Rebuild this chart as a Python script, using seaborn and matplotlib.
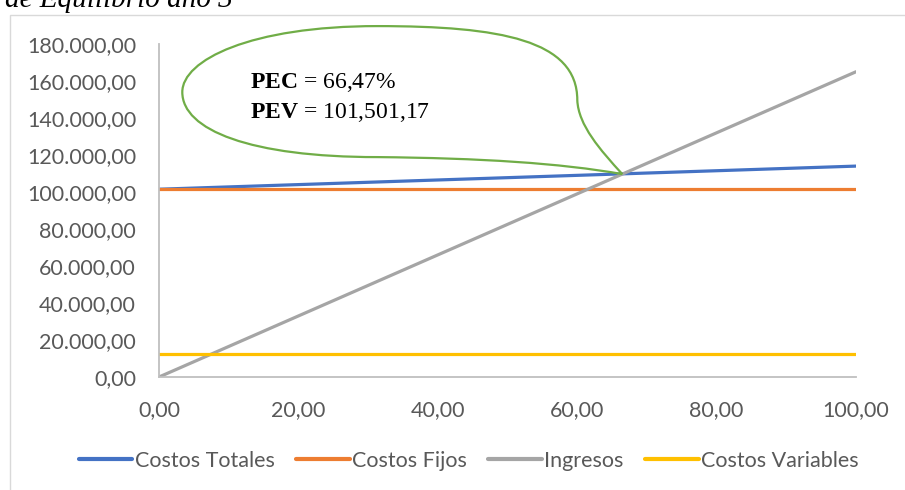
import numpy as np
import pandas as pd
import matplotlib
matplotlib.use("Agg")
import matplotlib.pyplot as plt
import matplotlib.transforms as mtransforms
from matplotlib.path import Path
from matplotlib.patches import PathPatch, Rectangle
from matplotlib.ticker import FuncFormatter, MultipleLocator
import seaborn as sns

# Series data (porcentaje de capacidad vs. valores monetarios)
capacidad = [0.0, 100.0]
costos_totales = [101501.17, 114000.0]
costos_fijos = [101501.17, 101501.17]
ingresos = [0.0, 165000.0]
costos_variables = [12500.0, 12500.0]

series_names = ["Costos Totales", "Costos Fijos", "Ingresos", "Costos Variables"]
series_colors = ["#4472C4", "#ED7D31", "#A5A5A5", "#FFC000"]

pec = 66.47
pec_label = "66,47%"
pev_label = "101,501,17"

sns.set_theme(style="white")
plt.rcParams["font.family"] = ["Lato", "DejaVu Sans"]
plt.rcParams["mathtext.fontset"] = "custom"
plt.rcParams["mathtext.rm"] = "Liberation Serif"
plt.rcParams["mathtext.bf"] = "Liberation Serif:bold"

df = pd.concat([
    pd.DataFrame({"x": capacidad, "valor": vals, "serie": name})
    for name, vals in zip(series_names,
                          [costos_totales, costos_fijos, ingresos, costos_variables])
], ignore_index=True)

fig = plt.figure(figsize=(9.05, 4.9), dpi=100)

# Outer chart frame
fig.patches.append(Rectangle((10 / 905, -0.05), 1.0, 1 - 15 / 490 + 0.05,
                             transform=fig.transFigure, fill=False,
                             edgecolor="#D9D9D9", linewidth=1.0))

# Caption above the chart frame, running off the top edge
fig.text(233 / 905, 1 - 7 / 490, "Punto de Equilibrio año 3", ha="right",
         va="baseline", family="Liberation Serif", style="italic", fontsize=21,
         color="#000000")

ax = fig.add_axes([159 / 905, 1 - 377 / 490, (856 - 159) / 905, (377 - 44) / 490])

sns.lineplot(data=df, x="x", y="valor", hue="serie", hue_order=series_names,
             palette=dict(zip(series_names, series_colors)), linewidth=2.3,
             ax=ax, legend=True)

ax.set_xlim(0, 100)
ax.set_ylim(0, 180000)
ax.yaxis.set_major_locator(MultipleLocator(20000))
ax.xaxis.set_major_locator(MultipleLocator(20))


def es_fmt(v, _pos=None):
    s = f"{v:,.2f}"
    return s.replace(",", "X").replace(".", ",").replace("X", ".")


ax.yaxis.set_major_formatter(FuncFormatter(es_fmt))
ax.xaxis.set_major_formatter(FuncFormatter(es_fmt))
ax.set_xlabel("")
ax.set_ylabel("")
ax.tick_params(length=0, pad=16.5, labelcolor="#595959", labelsize=15.5)
for side in ["top", "right"]:
    ax.spines[side].set_visible(False)
for side in ["left", "bottom"]:
    ax.spines[side].set_color("#BFBFBF")
    ax.spines[side].set_linewidth(1.3)
ax.grid(False)

handles, labels = ax.get_legend_handles_labels()
ax.get_legend().remove()
for h in handles:
    h.set_linewidth(3.0)
fig.legend(handles, labels, loc="center", bbox_to_anchor=(0.518, 1 - 461 / 490),
           ncol=4, frameon=False, fontsize=15.5, labelcolor="#595959",
           handlelength=2.5, handletextpad=0.1, columnspacing=1.0)

# Speech-bubble callout pointing at the break-even point
tip_y = float(np.interp(pec, capacidad, ingresos))
tip_trans = fig.dpi_scale_trans + mtransforms.ScaledTranslation(pec, tip_y, ax.transData)
bubble_px = [
    (0, 0),
    (-22, 24), (-44, 49), (-45, 74),
    (-45, 134), (-122, 148), (-245, 148),
    (-372, 148), (-440, 114), (-440, 82),
    (-440, 44), (-372, 17), (-245, 17),
    (-142, 16), (-62, 11), (0, 0),
]
codes = [Path.MOVETO] + [Path.CURVE4] * 15
verts = [(px / 100.0, py / 100.0) for px, py in bubble_px]
bubble = PathPatch(Path(verts, codes), transform=tip_trans, facecolor="none",
                   edgecolor="#70AD47", linewidth=1.6, clip_on=False, zorder=5)
ax.add_patch(bubble)

for label, dy in [(r"$\mathbf{PEC}$ = " + pec_label, 86),
                  (r"$\mathbf{PEV}$ = " + pev_label, 56)]:
    ax.annotate(label, xy=(pec, tip_y), xytext=(-372, dy),
                textcoords="offset pixels", ha="left", va="baseline",
                family="Liberation Serif", fontsize=17, color="black",
                annotation_clip=False, zorder=6)

fig.savefig("out.png", dpi=100)
